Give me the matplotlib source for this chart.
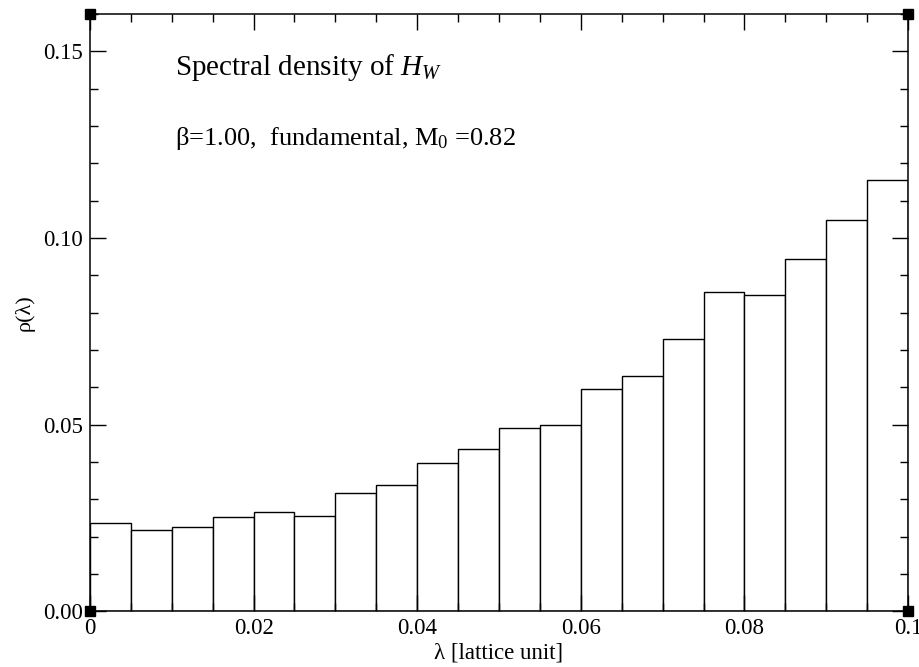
import matplotlib
matplotlib.use("Agg")
from matplotlib import pyplot as plt
from matplotlib.ticker import MultipleLocator, FixedFormatter, FixedLocator

plt.rcParams['font.family'] = ['Liberation Serif', 'DejaVu Serif']
plt.rcParams['mathtext.fontset'] = 'custom'
plt.rcParams['mathtext.rm'] = 'Liberation Serif'
plt.rcParams['mathtext.it'] = 'Liberation Serif:italic'

# histogram of eigenvalues, bin width 0.005
bin_edges = [0.000, 0.005, 0.010, 0.015, 0.020, 0.025, 0.030, 0.035, 0.040,
             0.045, 0.050, 0.055, 0.060, 0.065, 0.070, 0.075, 0.080, 0.085,
             0.090, 0.095]
rho = [0.0236, 0.0219, 0.0225, 0.0252, 0.0267, 0.0256, 0.0318, 0.0339,
       0.0397, 0.0434, 0.0490, 0.0499, 0.0596, 0.0631, 0.0730, 0.0854,
       0.0846, 0.0943, 0.1048, 0.1156]
bin_width = 0.005

x_ticks = [0, 0.02, 0.04, 0.06, 0.08, 0.1]
x_ticklabels = ['0', '0.02', '0.04', '0.06', '0.08', '0.1']
y_ticks = [0, 0.05, 0.10, 0.15]
y_ticklabels = ['0.00', '0.05', '0.10', '0.15']

fig = plt.figure(figsize=(9.2, 6.67), dpi=100)
ax = fig.add_axes([0.0978, 0.0835, 0.8892, 0.8955])

ax.bar(bin_edges, rho, width=bin_width, align='edge',
       facecolor='white', edgecolor='black', linewidth=1.0)

ax.set_xlim(0, 0.1)
ax.set_ylim(0, 0.16)

ax.xaxis.set_major_locator(FixedLocator(x_ticks))
ax.xaxis.set_major_formatter(FixedFormatter(x_ticklabels))
ax.xaxis.set_minor_locator(MultipleLocator(0.005))
ax.yaxis.set_major_locator(FixedLocator(y_ticks))
ax.yaxis.set_major_formatter(FixedFormatter(y_ticklabels))
ax.yaxis.set_minor_locator(MultipleLocator(0.01))

ax.tick_params(which='both', direction='in', top=True, right=True,
               labelsize=16.5, width=1.0, pad=5)
ax.tick_params(which='major', length=11.5)
ax.tick_params(which='minor', length=5.8)
for s in ax.spines.values():
    s.set_linewidth(1.1)

# little square markers in the frame corners
ax.plot([0, 1, 0, 1], [0, 0, 1, 1], 's', color='black', markersize=6.5,
        transform=ax.transAxes, clip_on=False, zorder=5)

ax.set_xlabel('λ [lattice unit]', fontsize=16.5, labelpad=2)
ax.set_ylabel('ρ(λ)', fontsize=16, labelpad=6)

ax.text(0.104, 0.898, r'Spectral density of $H_W$', transform=ax.transAxes,
        fontsize=21, va='baseline')
ax.text(0.104, 0.781, r'β=1.00,  fundamental, M$_0$ =0.82',
        transform=ax.transAxes, fontsize=19, va='baseline')

plt.savefig('out.png', dpi=100)
